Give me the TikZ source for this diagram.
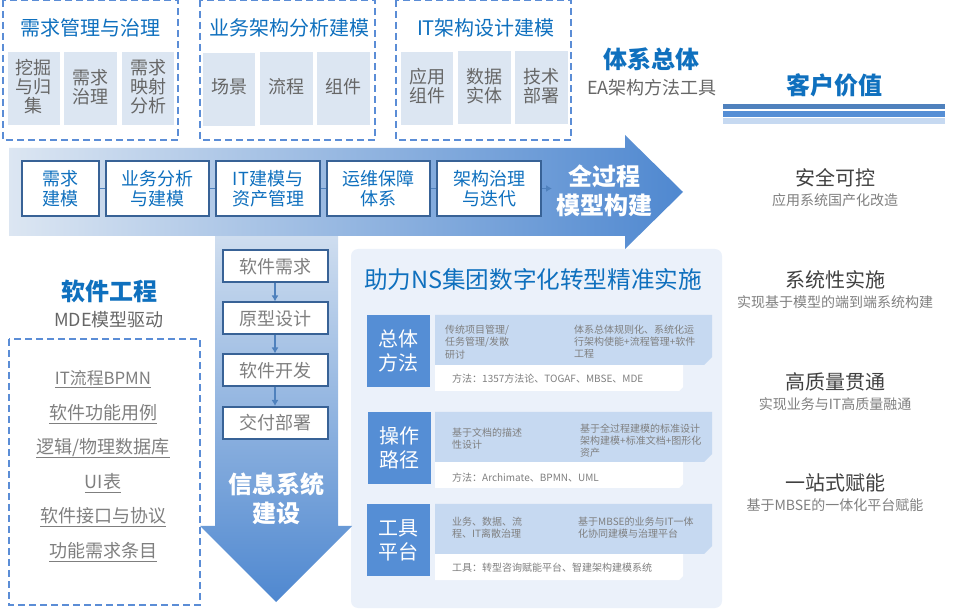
\documentclass[tikz,border=0pt]{standalone}
\usepackage{fontspec}
\setmainfont{Noto Sans CJK SC}
\usetikzlibrary{arrows.meta}
\definecolor{titleblue}{HTML}{0F70BE}
\definecolor{dashblue}{HTML}{5B8DD6}
\definecolor{cellblue}{HTML}{DCE6F2}
\definecolor{bandblue}{HTML}{C6D9F1}
\definecolor{frameblue}{HTML}{386296}
\definecolor{labelblue}{HTML}{558ED5}
\definecolor{arrowblue}{HTML}{4F88D0}
\definecolor{tipblue}{HTML}{4F81BD}
\definecolor{panelblue}{HTML}{EBF1FA}
\definecolor{textgray}{HTML}{666666}
\definecolor{softgray}{HTML}{7F7F7F}
\newcommand\itemline[1]{\underline{\raisebox{0pt}[\height][1.5pt]{#1}}}
\tikzset{
  dashbox/.style={draw=dashblue,line width=1.7pt,dash pattern=on 7pt off 4pt},
  cell/.style={text=textgray,align=center,inner sep=0pt,font=\fontsize{18}{19}\selectfont},
  cap16/.style={text=titleblue,font=\fontsize{20}{24}\selectfont},
  headline/.style={text=titleblue,font=\fontsize{24}{28}\bfseries\selectfont},
  subline/.style={text=textgray,font=\fontsize{18}{22}\selectfont},
  stepbox/.style={draw=frameblue,line width=2pt,fill=white,text=titleblue,align=center,inner sep=0pt,font=\fontsize{18}{19.5}\selectfont},
  flowbox/.style={draw=frameblue,line width=2pt,fill=white,text=softgray,inner sep=0pt,minimum width=105pt,minimum height=32pt,font=\fontsize{18}{22}\selectfont},
  flowline/.style={draw=tipblue,line width=1.6pt,-{Latex[length=6pt,width=7pt]}},
  linkline/.style={draw=tipblue,line width=1.6pt},
  bigwhite/.style={text=white,align=center,font=\fontsize{24}{29}\bfseries\selectfont},
  rowlabel/.style={fill=labelblue,text=white,align=center,inner sep=0pt,minimum width=63pt,minimum height=72pt,font=\fontsize{20}{24}\selectfont},
  small/.style={text=softgray,anchor=west,align=left,inner sep=0pt,font=\fontsize{10}{12.3}\selectfont},
  softitem/.style={text=softgray,font=\fontsize{18}{22}\selectfont},
  valuehead/.style={text=black!75,font=\fontsize{20}{23}\selectfont},
  valuetext/.style={text=softgray,font=\fontsize{14}{17}\selectfont}
}
\begin{document}
\begin{tikzpicture}[x=1pt,y=-1pt,>=latex]
\useasboundingbox (0,0) rectangle (978,609);

% top three groups
\draw[dashbox] (3,0) rectangle (178,140);
\draw[dashbox] (200,0) rectangle (375,140);
\draw[dashbox] (396,0) rectangle (571,140);
\node[cap16] (g1) at (90,28) {需求管理与治理};
\node[cap16] (g2) at (289,28) {业务架构分析建模};
\node[cap16] (g3) at (486,28) {IT架构设计建模};
\fill[cellblue] (8,52) rectangle (60,125);
\fill[cellblue] (64,52) rectangle (117,125);
\fill[cellblue] (122,52) rectangle (174,125);
\fill[cellblue] (203,53) rectangle (255,126);
\fill[cellblue] (260,52) rectangle (313,125);
\fill[cellblue] (317,52) rectangle (370,125);
\fill[cellblue] (401,52) rectangle (453,125);
\fill[cellblue] (458,51) rectangle (511,124);
\fill[cellblue] (515,51) rectangle (568,124);
\node[cell] (c11) at (34,87) {挖掘\\与归\\集};
\node[cell] (c12) at (90.5,87) {需求\\治理};
\node[cell] (c13) at (148,87) {需求\\映射\\分析};
\node[cell] (c21) at (229,87) {场景};
\node[cell] (c22) at (286.5,87) {流程};
\node[cell] (c23) at (343.5,87) {组件};
\node[cell] (c31) at (427,86.5) {应用\\组件};
\node[cell] (c32) at (484.5,86.5) {数据\\实体};
\node[cell] (c33) at (541.5,86.5) {技术\\部署};

\node[headline] (ea) at (651,59) {体系总体};
\node[subline] (eas) at (652,88) {EA架构方法工具};

% customer value column
\node[headline] (cv) at (834,85) {客户价值};
\fill[fill=tipblue] (723,104) rectangle (945,109);
\fill[labelblue] (723,111) rectangle (945,117);
\fill[bandblue] (723,118) rectangle (945,124);
\node[valuehead] (v1) at (835,178) {安全可控};
\node[valuetext] (v1s) at (835,200) {应用系统国产化改造};
\node[valuehead] (v2) at (835,280) {系统性实施};
\node[valuetext] (v2s) at (835,302) {实现基于模型的端到端系统构建};
\node[valuehead] (v3) at (835,382) {高质量贯通};
\node[valuetext] (v3s) at (835,404) {实现业务与IT高质量融通};
\node[valuehead] (v4) at (835,483) {一站式赋能};
\node[valuetext] (v4s) at (835,505) {基于MBSE的一体化平台赋能};

% panel
\fill[panelblue,rounded corners=7pt] (351,249) rectangle (722,608);
\node[text=titleblue,font=\fontsize{23.6}{28}\selectfont] (pt) at (533,279) {助力NS集团数字化转型精准实施};

% down arrow, then the long one over it
\shade[top color=cellblue!90!labelblue,bottom color=arrowblue] (215,236) -- (338,236) -- (338,526) -- (352,526) -- (276,602) -- (200,526) -- (215,526) -- cycle;
\shade[left color=cellblue,right color=arrowblue] (9,148) -- (625,148) -- (625,135) -- (683,192) -- (625,249) -- (625,236) -- (9,236) -- cycle;

\node[stepbox,minimum width=77pt,minimum height=55pt] (s1) at (60.5,188.5) {需求\\建模};
\node[stepbox,minimum width=103pt,minimum height=55pt] (s2) at (157.5,188.5) {业务分析\\与建模};
\node[stepbox,minimum width=104pt,minimum height=55pt] (s3) at (268,188.5) {IT建模与\\资产管理};
\node[stepbox,minimum width=103pt,minimum height=55pt] (s4) at (378.5,188.5) {运维保障\\体系};
\node[stepbox,minimum width=104pt,minimum height=55pt] (s5) at (489,188.5) {架构治理\\与迭代};
\coordinate (send) at (552,188.5);
\draw[linkline] (s1) -- (s2);
\draw[linkline] (s2) -- (s3);
\draw[linkline] (s3) -- (s4);
\draw[linkline] (s4) -- (s5);
\draw[linkline,-{Latex[length=6pt,width=7pt]}] (s5) -- (send);
\node[bigwhite] (whole) at (604,191) {全过程\\模型构建};

\node[flowbox] (f1) at (275,266.5) {软件需求};
\node[flowbox] (f2) at (275,318.5) {原型设计};
\node[flowbox] (f3) at (275,370.5) {软件开发};
\node[flowbox] (f4) at (275,423) {交付部署};
\draw[flowline] (f1) -- (f2);
\draw[flowline] (f2) -- (f3);
\draw[flowline] (f3) -- (f4);
\node[bigwhite] (sys) at (276,499) {信息系统\\建设};

% software engineering column
\node[headline] (se) at (109,291) {软件工程};
\node[subline] (ses) at (109,320) {MDE模型驱动};
\draw[dashbox] (9,339) rectangle (200,605);
\node[softitem,font=\fontsize{16.8}{22}\selectfont] (i1) at (103,379) {\itemline{IT流程BPMN}};
\node[softitem] (i2) at (103,414) {\itemline{软件功能用例}};
\node[softitem] (i3) at (103,448) {\itemline{逻辑/物理数据库}};
\node[softitem] (i4) at (103,483) {\itemline{UI表}};
\node[softitem] (i5) at (103,517) {\itemline{软件接口与协议}};
\node[softitem] (i6) at (103,552) {\itemline{功能需求条目}};

% rows inside the panel
\foreach \yy in {315,412,504}{
  \fill[white] (435,{\yy+50}) -- (683,{\yy+50}) -- (683,{\yy+72}) -- (679,{\yy+76}) -- (435,{\yy+76}) -- cycle;
  \fill[bandblue] (435,\yy) -- (712,\yy) -- (712,{\yy+42}) -- (704,{\yy+50}) -- (435,{\yy+50}) -- cycle;
}
\node[rowlabel] (r1) at (398.5,351) {总体\\方法};
\node[rowlabel] (r2) at (399,448) {操作\\路径};
\node[rowlabel] (r3) at (398.5,540) {工具\\平台};
\node[small] (r1a) at (445,342) {传统项目管理/\\任务管理/发散\\研讨};
\node[small] (r1b) at (574,341.5) {体系总体规则化、系统化运\\行架构使能+流程管理+软件\\工程};
\node[small] (r1c) at (452,379) {方法：1357方法论、TOGAF、MBSE、MDE};
\node[small] (r2a) at (452,438.5) {基于文档的描述\\性设计};
\node[small] (r2b) at (580,440.5) {基于全过程建模的标准设计\\架构建模+标准文档+图形化\\资产};
\node[small] (r2c) at (452,477.5) {方法：Archimate、BPMN、UML};
\node[small] (r3a) at (452,527.5) {业务、数据、流\\程、IT离散治理};
\node[small] (r3b) at (578,528) {基于MBSE的业务与IT一体\\化协同建模与治理平台};
\node[small] (r3c) at (452,568) {工具：转型咨询赋能平台、智建架构建模系统};
\end{tikzpicture}
\end{document}
